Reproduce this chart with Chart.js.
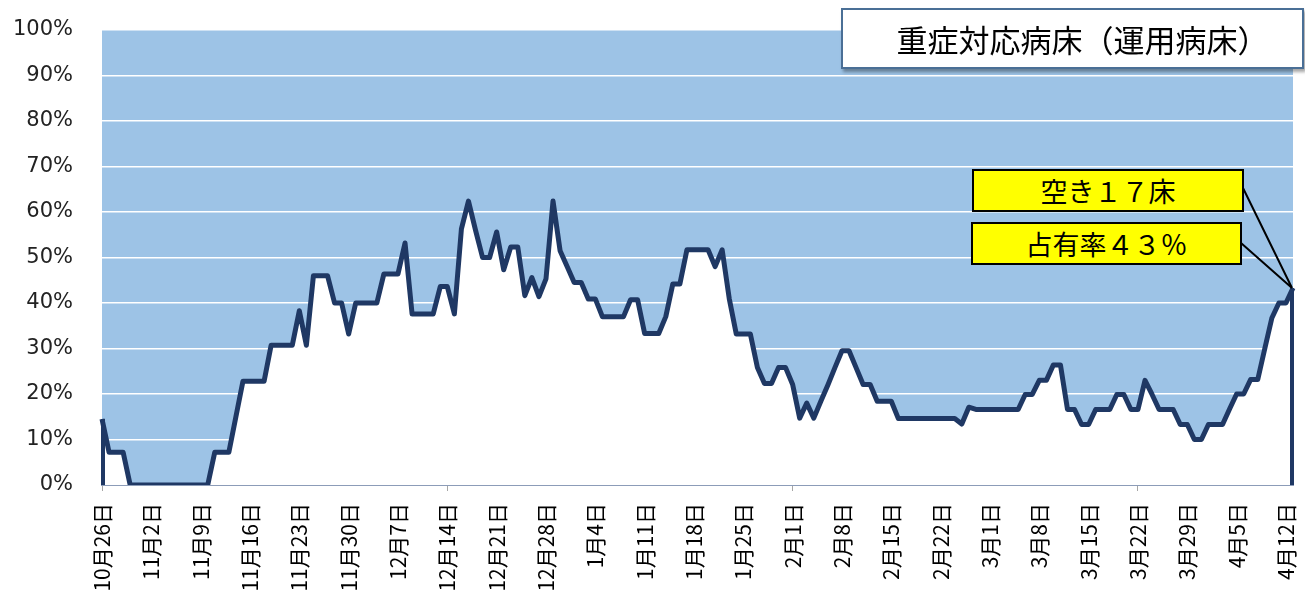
<!DOCTYPE html>
<html>
<head>
<meta charset="utf-8">
<script src="https://cdn.jsdelivr.net/npm/chart.js@4.4.1/dist/chart.umd.min.js"></script>
<style>
  html, body { margin: 0; padding: 0; background: #fff; overflow: hidden; }
  #wrap { position: absolute; left: 0; top: 0; width: 1305px; height: 596px; }
  .title {
    position: absolute; left: 841px; top: 8px; width: 459px; height: 57px;
    background: #fff; border: 2px solid #4a6f96; box-shadow: 2px 3px 3px rgba(0,0,0,0.35);
    font: 31px "Noto Sans CJK JP", sans-serif; color: #000;
    display: flex; align-items: center; justify-content: center;
    padding-left: 20px; box-sizing: border-box; width: 463px; height: 61px;
  }
  .callout {
    position: absolute; background: #ffff00; border: 2.5px solid #000;
    font: 27px "Noto Sans CJK JP", sans-serif; color: #000;
    display: flex; align-items: center; justify-content: center; box-sizing: border-box;
  }
</style>
</head>
<body>
<div id="wrap"><canvas id="chart"></canvas></div>
<div class="title">重症対応病床（運用病床）</div>
<div class="callout" id="vacant" style="left:972px; top:169px; width:272px; height:43px;">空き１７床</div>
<div class="callout" id="rate" style="left:971px; top:222px; width:271px; height:43px;">占有率４３％</div>
<script>
// 日別の占有率（%）2020/10/26 〜 2021/4/13
const occupancy = [
  14.5, 7.2, 7.2, 7.2, 0, 0, 0, 0, 0, 0,
  0, 0, 0, 0, 0, 0, 7.2, 7.2, 7.2, 15,
  22.8, 22.8, 22.8, 22.8, 30.7, 30.7, 30.7, 30.7, 38.3, 30.7,
  46, 46, 46, 40, 40, 33.2, 40, 40, 40, 40,
  46.4, 46.4, 46.4, 53.2, 37.6, 37.6, 37.6, 37.6, 43.6, 43.6,
  37.6, 56.3, 62.4, 56, 50, 50, 55.6, 47.3, 52.3, 52.3,
  41.6, 45.6, 41.4, 45.3, 62.4, 51.5, 48, 44.5, 44.5, 40.9,
  40.9, 37, 37, 37, 37, 40.7, 40.7, 33.3, 33.3, 33.3,
  37, 44.2, 44.2, 51.7, 51.7, 51.7, 51.7, 48, 51.7, 41,
  33.2, 33.2, 33.2, 25.8, 22.3, 22.3, 25.8, 25.8, 22.1, 14.7,
  18, 14.7, 18.4, 22, 25.8, 29.5, 29.5, 25.8, 22.1, 22.1,
  18.4, 18.4, 18.4, 14.6, 14.6, 14.6, 14.6, 14.6, 14.6, 14.6,
  14.6, 14.6, 13.4, 17.1, 16.6, 16.6, 16.6, 16.6, 16.6, 16.6,
  16.6, 19.9, 19.9, 23, 23, 26.4, 26.4, 16.6, 16.6, 13.3,
  13.3, 16.6, 16.6, 16.6, 19.9, 19.9, 16.6, 16.6, 23, 19.9,
  16.6, 16.6, 16.6, 13.3, 13.3, 10, 10, 13.3, 13.3, 13.3,
  16.7, 20, 20, 23.2, 23.2, 30, 36.7, 40, 40, 43.3
];

// 日付ラベル（10月26日から1日ずつ）
const startDate = new Date(2020, 9, 26);
const dayLabels = occupancy.map((v, i) => {
  const d = new Date(startDate);
  d.setDate(d.getDate() + i);
  return (d.getMonth() + 1) + '月' + d.getDate() + '日';
});

const navy = '#1f3864';

// plot background + area outline + leader lines
const decor = {
  id: 'decor',
  beforeDraw(chart) {
    const a = chart.chartArea, ctx = chart.ctx;
    ctx.save();
    ctx.fillStyle = '#9dc3e6';
    ctx.fillRect(a.left, a.top, a.right - a.left, a.bottom - a.top);
    ctx.restore();
  },
  afterDatasetsDraw(chart) {
    const a = chart.chartArea, ctx = chart.ctx;
    const pts = chart.getDatasetMeta(0).data;
    const first = pts[0], last = pts[pts.length - 1];
    ctx.save();
    ctx.strokeStyle = navy;
    ctx.lineWidth = 4;
    ctx.beginPath();
    ctx.moveTo(first.x + 1, first.y);
    ctx.lineTo(first.x + 1, a.bottom);
    ctx.moveTo(last.x - 1, last.y);
    ctx.lineTo(last.x - 1, a.bottom);
    ctx.stroke();
    // callout leader lines
    ctx.strokeStyle = '#000';
    ctx.lineWidth = 2;
    ctx.beginPath();
    ctx.moveTo(1243, 188);
    ctx.lineTo(last.x - 1, last.y);
    ctx.moveTo(1241, 243);
    ctx.lineTo(last.x - 1, last.y);
    ctx.stroke();
    ctx.restore();
  }
};

new Chart(document.getElementById('chart'), {
  type: 'line',
  data: {
    labels: dayLabels,
    datasets: [{
      label: '占有率',
      data: occupancy,
      borderColor: navy,
      borderWidth: 5,
      backgroundColor: '#ffffff',
      fill: 'origin',
      pointRadius: 0,
      tension: 0,
      borderJoinStyle: 'round',
      clip: { left: 3, right: 3, top: 3, bottom: 0 }
    }]
  },
  options: {
    responsive: true,
    maintainAspectRatio: false,
    animation: false,
    layout: { padding: { top: 30, right: 12, left: 0, bottom: 0 } },
    plugins: {
      legend: { display: false },
      tooltip: { enabled: false }
    },
    scales: {
      x: {
        type: 'category',
        offset: false,
        z: 1,
        afterFit: s => { s.height = 111; s.paddingLeft = 0; s.paddingRight = 0; },
        grid: {
          drawOnChartArea: false,
          drawTicks: true,
          tickLength: 6,
          color: c => (c.index % 7 === 0 ? '#a6a6a6' : 'rgba(0,0,0,0)')
        },
        border: { color: '#8c9cb8', width: 2 },
        ticks: {
          autoSkip: false,
          maxRotation: 90,
          minRotation: 90,
          padding: 12,
          color: '#000',
          font: { family: '"Noto Sans CJK JP", sans-serif', size: 21 },
          callback: function (val, i) {
            return i % 7 === 0 ? this.getLabelForValue(val) : null;
          }
        }
      },
      y: {
        min: 0,
        max: 100,
        afterFit: s => { s.width = 102; s.paddingTop = 0; s.paddingBottom = 0; },
        grid: { color: '#ffffff', lineWidth: 1.5, drawTicks: false },
        border: { display: false },
        ticks: {
          stepSize: 10,
          padding: 29,
          color: '#222',
          font: { family: '"DejaVu Sans", sans-serif', size: 21 },
          callback: v => v + '%'
        }
      }
    }
  },
  plugins: [decor]
});
</script>
</body>
</html>
